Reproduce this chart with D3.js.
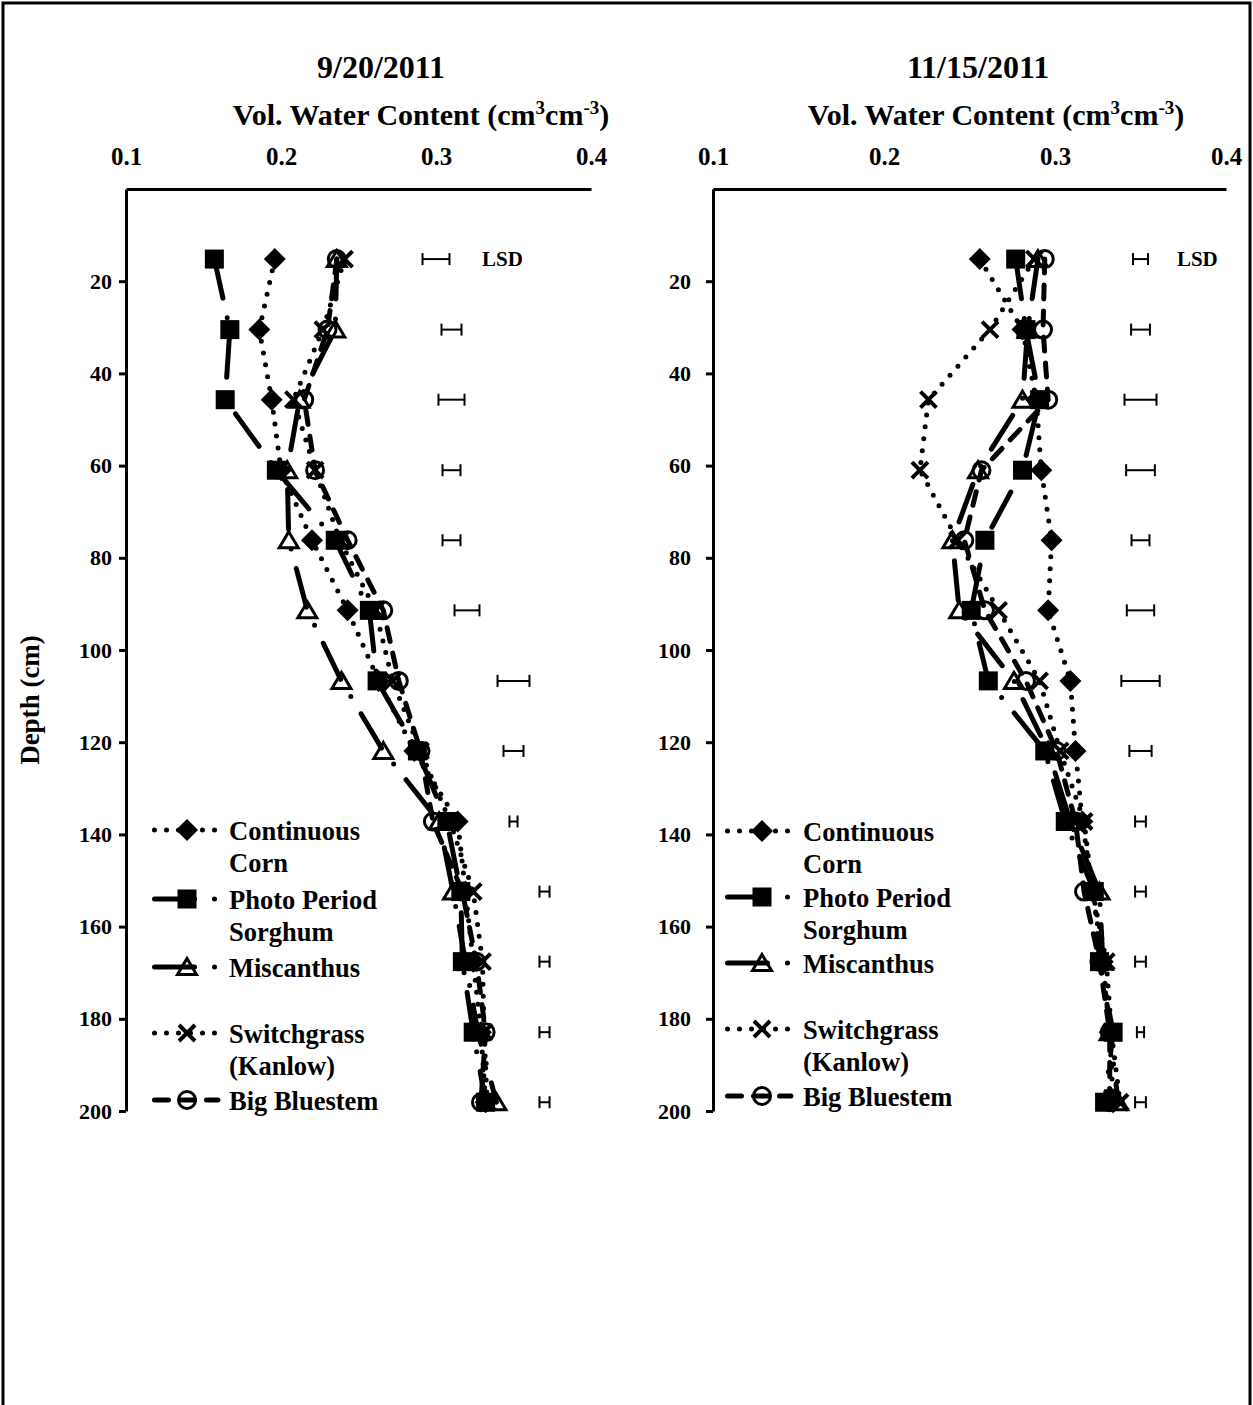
<!DOCTYPE html>
<html>
<head>
<meta charset="utf-8">
<script src="https://cdn.jsdelivr.net/npm/d3@7"></script>
<style>
  body { margin: 0; background: #fff; }
  svg { display: block; }
  text { font-family: "Liberation Serif", "Times New Roman", serif; font-weight: bold; fill: #000; }
</style>
</head>
<body>
<svg id="chart" width="1253" height="1405"></svg>
<script>
// Sampling depths (cm)
const depthCm = [15.2, 30.5, 45.7, 61.0, 76.2, 91.4, 106.7, 121.9, 137.2, 152.4, 167.6, 182.9, 198.1];
const xTicks = [0.1, 0.2, 0.3, 0.4];
const yTicks = [20, 40, 60, 80, 100, 120, 140, 160, 180, 200];
const seriesNames = ["Continuous Corn", "Photo Period Sorghum", "Miscanthus", "Switchgrass (Kanlow)", "Big Bluestem"];
const legendLines = [["Continuous", "Corn"], ["Photo Period", "Sorghum"], ["Miscanthus"], ["Switchgrass", "(Kanlow)"], ["Big Bluestem"]];
const panelTitles = ["9/20/2011", "11/15/2011"];

// Volumetric water content, 9/20/2011
const sepCorn        = [0.196, 0.186, 0.194, 0.200, 0.220, 0.243, 0.263, 0.286, 0.314, 0.319, 0.324, 0.329, 0.332];
const sepSorghum     = [0.157, 0.167, 0.164, 0.197, 0.235, 0.257, 0.262, 0.288, 0.307, 0.316, 0.317, 0.324, 0.332];
const sepMiscanthus  = [0.236, 0.235, 0.212, 0.204, 0.205, 0.217, 0.239, 0.266, 0.302, 0.311, 0.319, 0.327, 0.339];
const sepSwitchgrass = [0.241, 0.227, 0.208, 0.222, 0.238, 0.261, 0.272, 0.290, 0.309, 0.324, 0.330, 0.331, 0.333];
const sepBluestem    = [0.236, 0.230, 0.215, 0.222, 0.243, 0.266, 0.276, 0.290, 0.298, 0.317, 0.326, 0.332, 0.329];
const sepLsdCenter   = [0.300, 0.310, 0.310, 0.310, 0.310, 0.320, 0.350, 0.350, 0.350, 0.370, 0.370, 0.370, 0.370];
const sepLsd         = [0.0174, 0.0129, 0.0168, 0.0116, 0.0116, 0.0161, 0.0206, 0.0129, 0.0052, 0.0065, 0.0065, 0.0065, 0.0065];

// Volumetric water content, 11/15/2011
const novCorn        = [0.256, 0.281, 0.289, 0.292, 0.298, 0.296, 0.309, 0.312, 0.316, 0.322, 0.328, 0.332, 0.334];
const novSorghum     = [0.277, 0.283, 0.291, 0.281, 0.259, 0.251, 0.261, 0.294, 0.306, 0.323, 0.326, 0.334, 0.329];
const novMiscanthus  = [0.290, 0.284, 0.281, 0.255, 0.240, 0.244, 0.276, 0.296, 0.309, 0.326, 0.328, 0.332, 0.337];
const novSwitchgrass = [0.288, 0.262, 0.226, 0.221, 0.243, 0.267, 0.291, 0.303, 0.317, 0.322, 0.330, 0.333, 0.338];
const novBluestem    = [0.294, 0.293, 0.296, 0.257, 0.247, 0.259, 0.283, 0.301, 0.312, 0.317, 0.326, 0.332, 0.332];
const novLsdCenter   = [0.350, 0.350, 0.350, 0.350, 0.350, 0.350, 0.350, 0.350, 0.350, 0.350, 0.350, 0.350, 0.350];
const novLsd         = [0.0088, 0.0110, 0.0187, 0.0168, 0.0105, 0.0160, 0.0224, 0.0130, 0.0063, 0.0063, 0.0063, 0.0042, 0.0063];

// Line pattern and marker per treatment
const seriesStyle = [
  { marker: "diamond",  dash: "0 12" },
  { marker: "square",   dash: "40 20 0 20" },
  { marker: "triangle", dash: "40 20 0 20" },
  { marker: "cross",    dash: "0 12" },
  { marker: "circle",   dash: "14 12" }
];

const panels = [
  {
    title: panelTitles[0], titleX: 381, axisTitleX: 421,
    xRange: [126, 591], labelGap: 7, lsdLabelAt: 0.3297,
    series: [sepCorn, sepSorghum, sepMiscanthus, sepSwitchgrass, sepBluestem],
    lsdCenter: sepLsdCenter, lsd: sepLsd,
    legend: { x1: 152, x2: 217, mx: 187, tx: 229, rows: [830, 899, 967, 1033, 1100] }
  },
  {
    title: panelTitles[1], titleX: 978, axisTitleX: 996,
    xRange: [713, 1226], labelGap: 15, lsdLabelAt: 0.3713,
    series: [novCorn, novSorghum, novMiscanthus, novSwitchgrass, novBluestem],
    lsdCenter: novLsdCenter, lsd: novLsd,
    legend: { x1: 725, x2: 790, mx: 762, tx: 803, rows: [831, 897, 963, 1029, 1096] }
  }
];

const svg = d3.select("#chart");
const y = d3.scaleLinear().domain([0, 200]).range([189, 1111]);

// Outer frame
svg.append("rect").attr("x", 3).attr("y", 3).attr("width", 1247).attr("height", 1430)
  .attr("fill", "none").attr("stroke", "#000").attr("stroke-width", 3);

// Marker drawing
function drawMarker(g, type, cx, cy) {
  const m = g.append("g").attr("transform", `translate(${cx},${cy})`);
  if (type === "square") {
    m.append("rect").attr("x", -9.5).attr("y", -9.5).attr("width", 19).attr("height", 19).attr("fill", "#000");
  } else if (type === "diamond") {
    m.append("path").attr("d", "M0,-11L11,0L0,11L-11,0Z").attr("fill", "#000");
  } else if (type === "triangle") {
    m.append("path").attr("d", "M0,-8.5L9.5,7.5L-9.5,7.5Z").attr("fill", "none")
      .attr("stroke", "#000").attr("stroke-width", 3).attr("stroke-linejoin", "miter");
  } else if (type === "circle") {
    m.append("circle").attr("r", 8.5).attr("fill", "none").attr("stroke", "#000").attr("stroke-width", 3);
  } else if (type === "cross") {
    m.append("path").attr("d", "M-8,-8L8,8M8,-8L-8,8").attr("fill", "none")
      .attr("stroke", "#000").attr("stroke-width", 4);
  }
}

// Depth axis title
svg.append("text").attr("transform", "translate(39,700) rotate(-90)")
  .attr("text-anchor", "middle").attr("font-size", 27).text("Depth (cm)");

panels.forEach(p => {
  const x = d3.scaleLinear().domain([0.1, 0.4]).range(p.xRange);
  const root = svg.append("g");

  // Titles
  root.append("text").attr("x", p.titleX).attr("y", 78).attr("text-anchor", "middle")
    .attr("font-size", 32).text(p.title);
  const at = root.append("text").attr("x", p.axisTitleX).attr("y", 125).attr("text-anchor", "middle")
    .attr("font-size", 30);
  at.append("tspan").text("Vol. Water Content (cm");
  at.append("tspan").attr("font-size", 19).attr("dy", -11).text("3");
  at.append("tspan").attr("dy", 11).text("cm");
  at.append("tspan").attr("font-size", 19).attr("dy", -11).text("-3");
  at.append("tspan").attr("dy", 11).text(")");

  // Top value axis
  const xAxis = root.append("g").attr("transform", `translate(0,${y(0)})`)
    .call(d3.axisTop(x).tickValues(xTicks).tickFormat(d3.format(".1f")).tickSize(0).tickSizeOuter(0).tickPadding(24));
  xAxis.select(".domain").attr("stroke-width", 3);
  xAxis.selectAll("text").attr("font-size", 25);
  xAxis.attr("font-family", null).attr("font-size", null);

  // Depth axis
  const yAxis = root.append("g").attr("transform", `translate(${p.xRange[0]},0)`)
    .call(d3.axisLeft(y).tickValues(yTicks).tickSize(7).tickSizeOuter(0).tickPadding(p.labelGap));
  yAxis.select(".domain").attr("stroke-width", 3);
  yAxis.selectAll(".tick line").attr("stroke-width", 3);
  yAxis.selectAll("text").attr("font-size", 22);
  yAxis.attr("font-family", null).attr("font-size", null);

  // LSD bars
  const lsdG = root.append("g").attr("stroke", "#000").attr("stroke-width", 2);
  depthCm.forEach((d, i) => {
    const x0 = x(p.lsdCenter[i] - p.lsd[i] / 2), x1 = x(p.lsdCenter[i] + p.lsd[i] / 2), yy = y(d);
    lsdG.append("line").attr("x1", x0).attr("x2", x1).attr("y1", yy).attr("y2", yy);
    lsdG.append("line").attr("x1", x0).attr("x2", x0).attr("y1", yy - 6).attr("y2", yy + 6);
    lsdG.append("line").attr("x1", x1).attr("x2", x1).attr("y1", yy - 6).attr("y2", yy + 6);
  });
  root.append("text").attr("x", x(p.lsdLabelAt)).attr("y", y(depthCm[0]) + 7)
    .attr("font-size", 21).text("LSD");

  // Treatment profiles
  const line = d3.line().x(d => x(d[0])).y(d => y(d[1]));
  p.series.forEach((vals, s) => {
    const st = seriesStyle[s];
    const pts = vals.map((v, i) => [v, depthCm[i]]);
    const g = root.append("g").attr("class", "series").attr("data-name", seriesNames[s]);
    g.append("path").attr("d", line(pts)).attr("fill", "none").attr("stroke", "#000")
      .attr("stroke-width", 5).attr("stroke-linecap", "round").attr("stroke-dasharray", st.dash);
    pts.forEach(pt => drawMarker(g, st.marker, x(pt[0]), y(pt[1])));
  });

  // Legend
  const L = p.legend;
  seriesStyle.forEach((st, s) => {
    const ly = L.rows[s];
    const g = root.append("g");
    g.append("line").attr("x1", L.x1 + 2.5).attr("x2", L.x2 + 1).attr("y1", ly).attr("y2", ly)
      .attr("stroke", "#000").attr("stroke-width", 5).attr("stroke-linecap", "round")
      .attr("stroke-dasharray", st.dash);
    drawMarker(g, st.marker, L.mx, ly);
    legendLines[s].forEach((t, k) => {
      g.append("text").attr("x", L.tx).attr("y", ly + 10 + k * 32).attr("font-size", 26.5).text(t);
    });
  });
});
</script>
</body>
</html>
